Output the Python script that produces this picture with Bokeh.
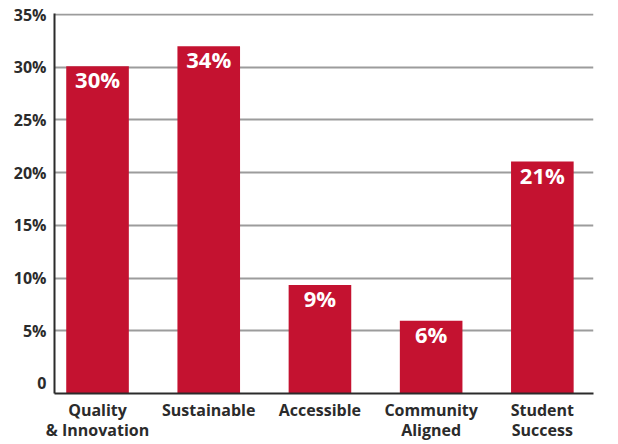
from bokeh.plotting import figure
from bokeh.models import Range1d, FixedTicker, ColumnDataSource
from bokeh.core.properties import value
from bokeh.embed import file_html
from bokeh.resources import INLINE

categories = ["Quality\n& Innovation", "Sustainable", "Accessible", "Community\nAligned", "Student\nSuccess"]
values = [30.1, 32.0, 9.35, 5.95, 21.05]
bar_labels = ["30%", "34%", "9%", "6%", "21%"]
y_ticks = [0, 5, 10, 15, 20, 25, 30, 35]
y_tick_labels = ["0", "5%", "10%", "15%", "20%", "25%", "30%", "35%"]

RED = "#C41230"
DARK = "#2b2b2b"
FONT = "Open Sans"

xs = list(range(len(categories)))
y0 = -0.95
src = ColumnDataSource(dict(x=xs, top=values, label=bar_labels))

p = figure(width=618, height=444, output_backend="svg", toolbar_location=None,
           x_range=Range1d(-0.387, 4.46), y_range=Range1d(y0, 35.1),
           min_border_left=54, min_border_right=25, min_border_top=13, min_border_bottom=47)
p.outline_line_color = None
p.background_fill_color = "white"
p.border_fill_color = "white"

p.vbar(x="x", top="top", bottom=y0, width=0.563, source=src, fill_color=RED, line_color=None)
p.text(x="x", y="top", text="label", source=src, text_color="white",
       text_font=value(FONT), text_font_style="bold", text_font_size="22px",
       text_align="center", text_baseline="top", y_offset=-2)

p.xgrid.visible = False
p.ygrid.ticker = FixedTicker(ticks=y_ticks[1:])
p.ygrid.grid_line_color = "#9c9c9c"
p.ygrid.grid_line_width = 2
p.ygrid.level = "underlay"

ya = p.yaxis[0]
ya.ticker = FixedTicker(ticks=y_ticks)
ya.major_label_overrides = {t: l for t, l in zip(y_ticks, y_tick_labels)}
ya.major_tick_line_color = None
ya.major_tick_out = 0
ya.major_tick_in = 0
ya.minor_tick_line_color = None
ya.axis_line_color = DARK
ya.axis_line_width = 2
ya.major_label_text_font = FONT
ya.major_label_text_font_style = "bold"
ya.major_label_text_font_size = "16px"
ya.major_label_text_color = DARK
ya.major_label_standoff = 8

xa = p.xaxis[0]
xa.ticker = FixedTicker(ticks=xs)
xa.major_label_overrides = {i: c for i, c in zip(xs, categories)}
xa.major_tick_line_color = None
xa.major_tick_out = 0
xa.major_tick_in = 0
xa.minor_tick_line_color = None
xa.axis_line_color = DARK
xa.axis_line_width = 2
xa.major_label_text_font = FONT
xa.major_label_text_font_style = "bold"
xa.major_label_text_font_size = "16px"
xa.major_label_text_color = DARK
xa.major_label_standoff = 5
xa.major_label_text_line_height = 0.94

open("out.html", "w").write(file_html(p, INLINE))
